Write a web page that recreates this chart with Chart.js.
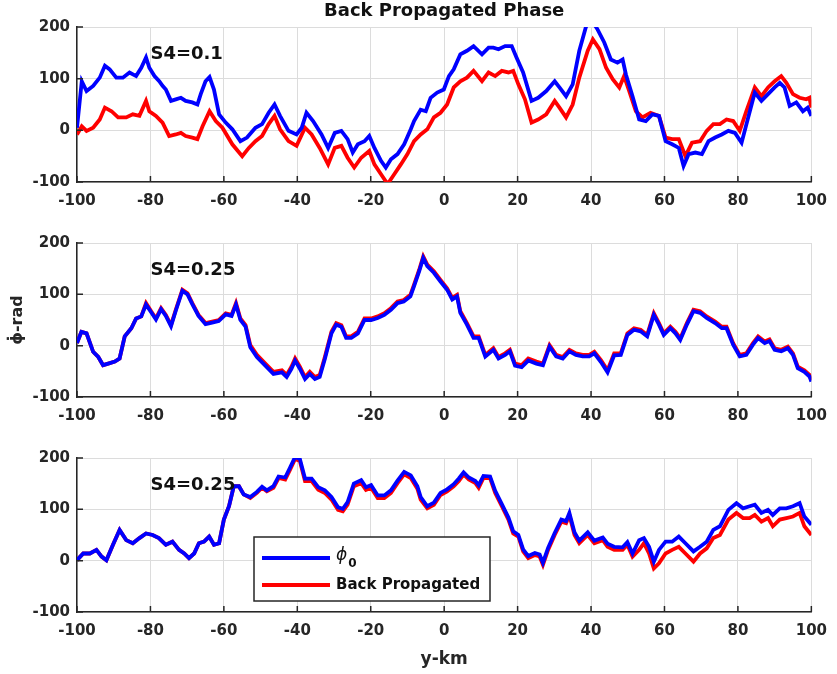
<!DOCTYPE html>
<html>
<head>
<meta charset="utf-8">
<script src="https://cdn.jsdelivr.net/npm/chart.js@4.4.1/dist/chart.umd.min.js"></script>
<style>
  html, body { margin: 0; background: #fff; }
  .panel { position: absolute; left: 0; width: 837px; }
</style>
</head>
<body>
<div class="panel" style="top:0;height:215px"><canvas id="panel1"></canvas></div>
<div class="panel" style="top:215px;height:215px"><canvas id="panel2"></canvas></div>
<div class="panel" style="top:430px;height:244px"><canvas id="panel3"></canvas></div>
<script>
// Three stacked panels of phase vs. y-km, phi_0 (blue) against the
// back-propagated phase (red).
const xTicks = [-100, -80, -60, -40, -20, 0, 20, 40, 60, 80, 100];
const yTicks = [-100, 0, 100, 200];

// panel 1, S4=0.1
const p1BlueX = [-100,-98.7,-97.4,-95.6,-93.8,-92.4,-91.1,-89.3,-87.5,-85.7,
  -83.9,-82.5,-81.2,-80.3,-78.9,-77.6,-76.7,-75.8,-74.4,-73.1,
  -71.7,-70.4,-68.6,-67.2,-66.3,-65.0,-63.9,-62.7,-61.3,-59.5,
  -57.7,-55.5,-53.7,-51.4,-49.6,-47.8,-46.2,-44.7,-42.4,-40.2,
  -38.8,-37.5,-35.7,-33.4,-31.6,-29.8,-28.0,-26.3,-24.9,-23.5,
  -21.7,-20.4,-19.0,-17.2,-15.9,-14.5,-12.7,-10.9,-9.1,-8.2,
  -6.4,-5.0,-3.7,-1.9,-0.1,1.3,2.6,4.4,6.2,8.0,
  10.3,12.1,13.4,14.8,16.6,18.4,19.7,21.5,23.8,25.6,
  27.8,30.1,31.4,33.2,35.0,36.8,38.6,40.0,41.8,43.6,
  45.4,47.2,48.6,49.5,51.3,53.1,54.9,56.7,58.5,60.3,
  62.1,63.9,65.2,66.6,68.4,70.2,72.0,73.8,75.6,77.4,
  79.2,81.0,82.8,84.6,86.4,88.2,90.0,91.4,92.7,94.1,
  95.9,97.7,99.0,100];
const p1BlueY = [5,95,76,86,102,125,118,102,102,112,
  105,121,141,121,105,95,86,79,57,60,
  63,57,54,50,70,95,103,79,31,15,
  2,-21,-14,5,12,34,50,28,-1,-8,
  5,34,18,-8,-34,-5,-1,-17,-43,-27,
  -21,-11,-34,-59,-72,-56,-46,-27,2,18,
  40,37,63,73,79,105,118,147,154,163,
  147,160,160,157,163,163,141,112,57,63,
  76,95,83,66,89,154,200,215,195,170,
  137,131,137,108,66,21,18,31,28,-21,
  -27,-34,-69,-46,-43,-46,-21,-14,-8,-1,
  -5,-24,25,73,57,70,83,92,83,47,
  54,37,44,28];
const p1RedX = [-100,-98.7,-97.4,-95.6,-93.8,-92.4,-90.6,-88.8,-86.6,-84.8,
  -83.0,-81.2,-80.3,-78.5,-76.7,-74.9,-73.1,-71.7,-70.4,-68.6,
  -67.2,-65.8,-63.9,-62.2,-60.4,-57.7,-55.0,-53.2,-51.4,-49.6,
  -47.8,-46.2,-44.7,-42.4,-40.2,-37.9,-36.1,-33.9,-31.6,-29.8,
  -28.0,-26.3,-24.5,-22.6,-20.4,-19.0,-17.2,-15.4,-13.6,-11.8,
  -10.0,-8.2,-6.4,-4.6,-2.8,-1.0,0.8,2.6,4.4,6.2,
  8.0,10.3,12.1,13.9,15.7,17.5,18.8,20.2,22.0,23.8,
  25.6,27.8,30.1,31.4,33.2,35.0,36.8,39.1,40.5,42.3,
  44.1,45.9,47.7,49.0,50.4,52.2,54.0,56.2,58.5,60.3,
  62.1,63.9,65.7,67.5,69.7,71.5,73.3,75.1,76.9,78.7,
  80.5,82.3,84.6,86.4,88.2,90.0,91.8,93.2,95.0,96.8,
  98.6,99.5,100];
const p1RedY = [-8,8,-1,5,21,44,37,25,25,31,
  28,57,37,28,15,-11,-8,-5,-11,-14,
  -17,8,37,18,5,-27,-50,-34,-21,-11,
  12,28,2,-21,-30,5,-8,-34,-66,-34,
  -30,-53,-72,-53,-40,-66,-85,-104,-85,-66,
  -46,-21,-8,2,25,34,50,83,95,102,
  115,95,112,105,115,112,115,89,60,15,
  21,31,57,44,25,50,102,154,176,157,
  121,99,83,105,76,37,25,34,28,-14,
  -17,-17,-50,-24,-21,-1,12,12,21,18,
  -1,37,83,66,83,95,105,92,70,63,
  60,63,44];

// panel 2, S4=0.25
const p2X = [-100,-98.8,-97.4,-95.6,-94.2,-92.9,-91.5,-89.7,-88.4,-87.0,
  -85.2,-83.9,-82.5,-81.2,-79.8,-78.5,-77.1,-75.8,-74.4,-73.1,
  -71.3,-69.9,-68.6,-66.9,-65.0,-63.2,-61.4,-59.5,-57.9,-56.7,
  -55.5,-54.1,-52.8,-51.0,-48.7,-46.5,-44.2,-42.9,-41.6,-40.6,
  -39.3,-37.9,-36.6,-35.2,-33.9,-32.5,-30.7,-29.4,-28.0,-26.7,
  -25.3,-23.5,-21.7,-19.9,-18.1,-16.3,-14.5,-12.7,-11.0,-9.2,
  -8.2,-6.8,-5.7,-4.6,-2.8,-1.0,0.8,2.2,3.5,4.4,
  6.2,8.0,9.4,11.2,13.4,14.8,16.6,17.9,19.3,21.1,
  22.9,25.1,26.9,28.7,30.5,32.3,34.1,35.9,37.7,39.5,
  40.9,42.7,44.5,46.3,48.1,49.9,51.7,53.5,55.3,57.1,
  58.5,59.8,61.6,63.0,64.3,66.1,67.9,69.7,71.5,73.8,
  75.6,76.9,78.7,80.5,82.3,84.1,85.5,87.3,88.6,90.0,
  91.8,93.6,95.0,96.3,98.1,99.5,100];
const p2RedY = [5,27,24,-12,-22,-38,-35,-31,-25,18,
  34,53,57,83,67,53,73,60,40,70,
  109,102,83,60,44,47,50,63,60,83,
  53,40,1,-18,-35,-51,-48,-57,-41,-25,
  -41,-61,-51,-61,-57,-22,27,44,40,18,
  18,27,53,53,57,63,73,86,89,99,
  119,148,174,158,145,128,112,93,99,67,
  44,18,18,-18,-5,-22,-15,-8,-35,-38,
  -25,-31,-35,1,-18,-22,-8,-15,-18,-18,
  -12,-28,-48,-15,-15,24,34,31,21,63,
  44,24,37,27,14,44,70,67,57,47,
  37,37,5,-18,-15,5,18,8,12,-5,
  -8,-2,-15,-41,-48,-57,-67];
const p2BlueY = [5,27,24,-12,-22,-38,-35,-31,-25,18,
  34,53,57,80,65,51,71,58,38,68,
  107,100,81,58,42,45,48,61,58,80,
  50,37,-3,-22,-39,-55,-52,-61,-45,-29,
  -45,-65,-55,-65,-61,-26,24,41,37,15,
  15,24,50,50,54,60,70,83,86,96,
  116,145,171,155,142,125,109,90,96,64,
  41,15,15,-21,-8,-25,-18,-11,-39,-42,
  -29,-35,-38,-2,-21,-25,-11,-18,-21,-21,
  -15,-32,-52,-19,-18,21,31,28,18,60,
  41,21,34,24,11,41,67,64,54,44,
  34,34,2,-21,-18,2,15,5,9,-8,
  -11,-5,-18,-44,-51,-60,-70];

// panel 3, S4=0.25
const p3X = [-100,-98.3,-96.5,-94.7,-93.3,-92.0,-90.2,-88.4,-86.6,-84.8,
  -83.0,-81.2,-79.4,-77.7,-75.8,-74.0,-72.2,-70.8,-69.5,-68.1,
  -66.8,-65.4,-64.0,-62.7,-61.3,-60.0,-58.6,-57.3,-55.9,-54.6,
  -52.8,-51.0,-49.6,-48.3,-46.5,-45.1,-43.3,-42.0,-40.6,-39.3,
  -37.9,-36.1,-34.3,-32.5,-30.7,-28.9,-27.6,-26.3,-24.6,-22.6,
  -21.3,-19.9,-18.1,-16.3,-14.5,-12.7,-10.9,-9.1,-7.3,-6.4,
  -4.6,-2.8,-1.0,0.8,2.6,4.0,5.3,6.7,8.5,9.4,
  10.7,12.5,13.9,15.7,17.5,18.8,20.2,21.5,22.9,24.7,
  26.0,26.9,28.3,30.1,31.9,33.2,34.1,35.5,36.8,39.1,
  40.9,43.2,44.5,46.3,48.6,49.9,51.3,53.1,54.4,55.8,
  57.1,58.5,60.3,62.1,63.9,65.7,67.9,69.7,71.5,73.3,
  75.1,77.4,79.6,81.4,83.2,84.6,86.4,88.2,89.5,91.4,
  93.2,95.0,96.8,98.1,100];
const p3RedY = [1,14,14,21,8,1,31,60,40,34,
  44,53,50,44,31,37,21,14,5,14,
  34,37,47,31,34,80,106,145,145,129,
  122,132,142,135,142,161,158,177,198,194,
  155,155,138,132,119,99,96,109,145,151,
  138,142,122,122,132,151,168,161,140,119,
  102,109,128,135,145,155,168,158,151,142,
  161,161,132,106,80,53,47,18,5,11,
  8,-8,21,50,76,73,89,50,34,50,
  34,40,27,21,21,31,8,21,34,14,
  -15,-5,14,21,27,14,-2,14,24,44,
  50,80,93,83,83,89,76,83,67,80,
  83,86,93,67,50];
const p3BlueY = [1,14,14,21,8,1,31,60,40,34,
  44,53,50,44,31,37,21,14,5,14,
  34,37,47,31,34,80,106,145,145,129,
  124,134,144,137,145,164,162,181,202,198,
  160,160,143,137,124,104,101,114,150,157,
  143,147,127,127,137,156,173,166,145,124,
  106,113,132,139,149,160,172,162,155,147,
  165,164,136,110,84,57,50,22,9,15,
  12,-4,25,54,80,77,93,55,39,55,
  39,45,33,27,26,36,14,40,44,27,
  -2,21,37,37,47,34,18,27,37,60,
  67,99,112,102,106,109,93,99,89,102,
  102,106,112,86,70];

const FONT = "'DejaVu Sans', sans-serif";
const AXIS_DARK = '#262626';
const GRID = '#dcdcdc';
const BLUE = '#0000ff';
const RED = '#ff0000';

const toPoints = (xs, ys) => xs.map((x, i) => ({ x, y: ys[i] }));

// MATLAB-style tick marks pointing into the axes box
const inwardTicks = {
  id: 'inwardTicks',
  afterDatasetsDraw(chart) {
    const { ctx, chartArea: a, scales: { x, y } } = chart;
    ctx.save();
    ctx.strokeStyle = AXIS_DARK;
    ctx.lineWidth = 1.5;
    ctx.beginPath();
    x.ticks.forEach((t) => {
      const px = x.getPixelForValue(t.value);
      ctx.moveTo(px, a.bottom);
      ctx.lineTo(px, a.bottom - 6);
    });
    y.ticks.forEach((t) => {
      const py = y.getPixelForValue(t.value);
      ctx.moveTo(a.left, py);
      ctx.lineTo(a.left + 6, py);
    });
    ctx.stroke();
    ctx.restore();
  },
};

// "S4=..." text placed in data coordinates
const s4Label = {
  id: 's4Label',
  afterDatasetsDraw(chart, args, opts) {
    if (!opts.text) return;
    const { ctx, scales: { x, y } } = chart;
    ctx.save();
    ctx.font = `bold 18px ${FONT}`;
    ctx.fillStyle = '#111';
    ctx.textBaseline = 'middle';
    ctx.textAlign = 'left';
    ctx.fillText(opts.text, x.getPixelForValue(opts.x), y.getPixelForValue(opts.y));
    ctx.restore();
  },
};

// boxed legend sitting inside the bottom axes
const boxLegend = {
  id: 'boxLegend',
  afterDraw(chart, args, opts) {
    if (!opts.show) return;
    const { ctx } = chart;
    const { left, top, width, height } = opts;
    ctx.save();
    ctx.fillStyle = '#fff';
    ctx.fillRect(left, top, width, height);
    ctx.strokeStyle = AXIS_DARK;
    ctx.lineWidth = 1.5;
    ctx.strokeRect(left, top, width, height);
    const rows = [
      { color: BLUE, label: 'ϕ', sub: '0' },
      { color: RED, label: 'Back Propagated' },
    ];
    rows.forEach((r, i) => {
      const yy = top + 21 + i * 27;
      ctx.strokeStyle = r.color;
      ctx.lineWidth = 4;
      ctx.beginPath();
      ctx.moveTo(left + 8, yy);
      ctx.lineTo(left + 76, yy);
      ctx.stroke();
      ctx.fillStyle = '#111';
      ctx.textBaseline = 'middle';
      if (r.sub) {
        ctx.font = `italic 17px ${FONT}`;
        ctx.fillText(r.label, left + 82, yy - 2);
        const w = ctx.measureText(r.label).width;
        ctx.font = `bold 12px ${FONT}`;
        ctx.fillText(r.sub, left + 83 + w, yy + 6);
      } else {
        ctx.font = `bold 15px ${FONT}`;
        ctx.fillText(r.label, left + 82, yy);
      }
    });
    ctx.restore();
  },
};

const tickFont = { family: FONT, size: 15, weight: 'bold' };

function makePanel(id, cfg) {
  const datasets = [
    { label: 'ϕ0', data: toPoints(cfg.blueX, cfg.blueY), borderColor: BLUE },
    { label: 'Back Propagated', data: toPoints(cfg.redX, cfg.redY), borderColor: RED },
  ].map((d) => ({ ...d, borderWidth: 3.8, pointRadius: 0, tension: 0, fill: false }));

  return new Chart(document.getElementById(id), {
    type: 'line',
    data: { datasets },
    plugins: [inwardTicks, s4Label, boxLegend],
    options: {
      responsive: true,
      maintainAspectRatio: false,
      animation: false,
      events: [],
      layout: { padding: { left: 0, right: 19, top: cfg.padTop, bottom: 0 } },
      scales: {
        x: {
          type: 'linear',
          min: -100,
          max: 100,
          afterBuildTicks: (s) => { s.ticks = xTicks.map((v) => ({ value: v })); },
          afterFit: (s) => { s.height = cfg.bottomH; },
          grid: { color: GRID, lineWidth: 1, drawTicks: false },
          border: { color: AXIS_DARK, width: 1.5 },
          ticks: { padding: 10, maxRotation: 0, autoSkip: false, font: tickFont, color: AXIS_DARK },
          title: {
            display: !!cfg.xTitle,
            text: cfg.xTitle || '',
            font: { family: FONT, size: 17, weight: 'bold' },
            color: AXIS_DARK,
            padding: { top: 0, bottom: 4 },
          },
        },
        y: {
          type: 'linear',
          min: -100,
          max: 200,
          afterBuildTicks: (s) => { s.ticks = yTicks.map((v) => ({ value: v })); },
          afterFit: (s) => { s.width = 77; },
          grid: { color: GRID, lineWidth: 1, drawTicks: false },
          border: { color: AXIS_DARK, width: 1.5 },
          ticks: { padding: 7, font: tickFont, color: AXIS_DARK },
          title: {
            display: !!cfg.yTitle,
            text: cfg.yTitle || '',
            font: { family: FONT, size: 16, weight: 'bold' },
            color: AXIS_DARK,
            padding: { top: 8, bottom: 0 },
          },
        },
      },
      plugins: {
        legend: { display: false },
        tooltip: { enabled: false },
        title: {
          display: !!cfg.title,
          text: cfg.title || '',
          fullSize: false,
          font: { family: FONT, size: 18, weight: 'bold' },
          color: '#111',
          padding: { top: 1, bottom: 4.4 },
        },
        s4Label: { text: cfg.s4, x: -80, y: 147 },
        boxLegend: cfg.legend || { show: false },
      },
    },
  });
}

makePanel('panel1', {
  blueX: p1BlueX, blueY: p1BlueY, redX: p1RedX, redY: p1RedY,
  title: 'Back Propagated Phase', s4: 'S4=0.1', padTop: 0, bottomH: 33,
});
makePanel('panel2', {
  blueX: p2X, blueY: p2BlueY, redX: p2X, redY: p2RedY,
  s4: 'S4=0.25', yTitle: 'ϕ̇-rad', padTop: 28, bottomH: 33,
});
makePanel('panel3', {
  blueX: p3X, blueY: p3BlueY, redX: p3X, redY: p3RedY,
  s4: 'S4=0.25', xTitle: 'y-km', padTop: 28, bottomH: 62,
  legend: { show: true, left: 254, top: 107, width: 236, height: 64 },
});
</script>
</body>
</html>
